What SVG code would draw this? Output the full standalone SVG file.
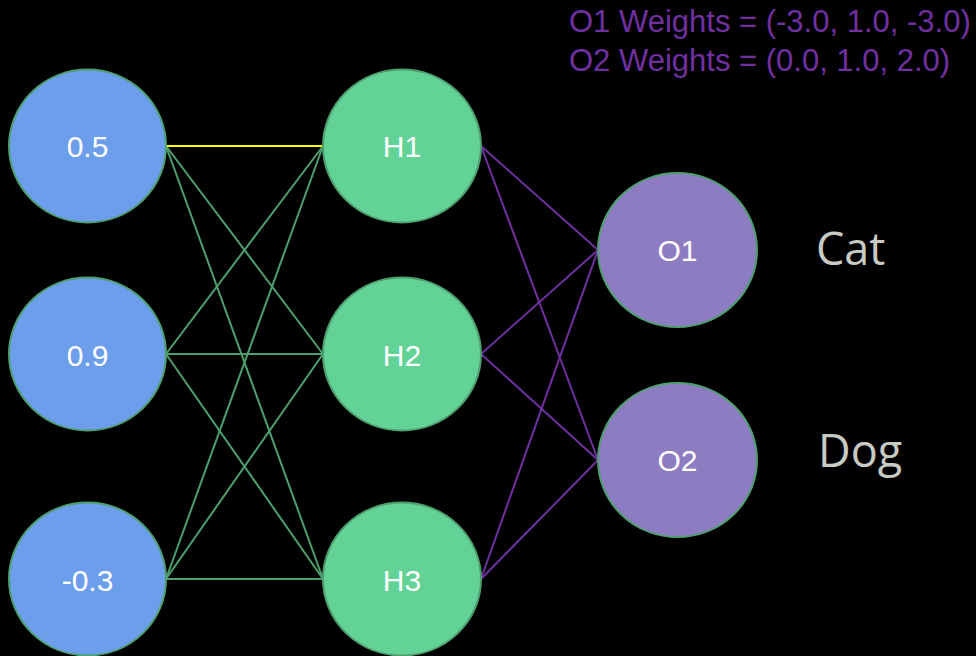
<svg xmlns="http://www.w3.org/2000/svg" width="976" height="656" viewBox="0 0 976 656">
<style>
.in{fill:#6D9EEB;stroke:#4E9F6E;stroke-width:2}
.hid{fill:#63D297;stroke:#4E9F6E;stroke-width:2}
.out{fill:#8E7CC3;stroke:#4E9F6E;stroke-width:2}
.lbl{font-family:"Liberation Sans",Arial,sans-serif;font-size:30px;fill:#FFFFFF;text-anchor:middle}
.g{stroke:#4E9F6E;stroke-width:2;fill:none}
.p{stroke:#7030A0;stroke-width:2;fill:none}
.w{font-family:"Liberation Sans",Arial,sans-serif;font-size:31px;fill:#7030A0}
.cls{font-family:"Open Sans","Noto Sans",sans-serif;font-size:45px;fill:#C8CBC4}
</style>
<rect width="976" height="656" fill="#000000"/>
<g id="connectors">
<line class="g" x1="166" y1="146" x2="323" y2="354"/>
<line class="g" x1="166" y1="146" x2="323" y2="579"/>
<line class="g" x1="166" y1="354" x2="323" y2="146"/>
<line class="g" x1="166" y1="354" x2="323" y2="354"/>
<line class="g" x1="166" y1="354" x2="323" y2="579"/>
<line class="g" x1="166" y1="579" x2="323" y2="146"/>
<line class="g" x1="166" y1="579" x2="323" y2="354"/>
<line class="g" x1="166" y1="579" x2="323" y2="579"/>
<line x1="166" y1="146" x2="323" y2="146" stroke="#FFFF00" stroke-width="2"/>
<line class="p" x1="481" y1="146" x2="598" y2="250"/>
<line class="p" x1="481" y1="146" x2="598" y2="460"/>
<line class="p" x1="481" y1="354" x2="598" y2="250"/>
<line class="p" x1="481" y1="354" x2="598" y2="460"/>
<line class="p" x1="481" y1="579" x2="598" y2="250"/>
<line class="p" x1="481" y1="579" x2="598" y2="460"/>
</g>
<g id="in1"><ellipse class="in" cx="87.5" cy="146" rx="78.5" ry="76.5"/><text class="lbl" x="87.5" y="157">0.5</text></g>
<g id="in2"><ellipse class="in" cx="87.5" cy="354" rx="78.5" ry="76.5"/><text class="lbl" x="87.5" y="366">0.9</text></g>
<g id="in3"><ellipse class="in" cx="87.5" cy="579" rx="78.5" ry="76.5"/><text class="lbl" x="87.5" y="591">-0.3</text></g>
<g id="h1"><ellipse class="hid" cx="402" cy="146" rx="79" ry="76.5"/><text class="lbl" x="402" y="157">H1</text></g>
<g id="h2"><ellipse class="hid" cx="402" cy="354" rx="79" ry="76.5"/><text class="lbl" x="402" y="366">H2</text></g>
<g id="h3"><ellipse class="hid" cx="402" cy="579" rx="79" ry="76.5"/><text class="lbl" x="402" y="591">H3</text></g>
<g id="o1"><ellipse class="out" cx="677.5" cy="250" rx="79.5" ry="77"/><text class="lbl" x="677.5" y="261">O1</text></g>
<g id="o2"><ellipse class="out" cx="677.5" cy="460" rx="79.5" ry="77"/><text class="lbl" x="677.5" y="471">O2</text></g>
<g id="weights">
<text class="w" x="569" y="32">O1 Weights = (-3.0, 1.0, -3.0)</text>
<text class="w" x="569" y="71">O2 Weights = (0.0, 1.0, 2.0)</text>
</g>
<g id="classes">
<text class="cls" x="816" y="265">Cat</text>
<text class="cls" x="818" y="467">Dog</text>
</g>
</svg>
